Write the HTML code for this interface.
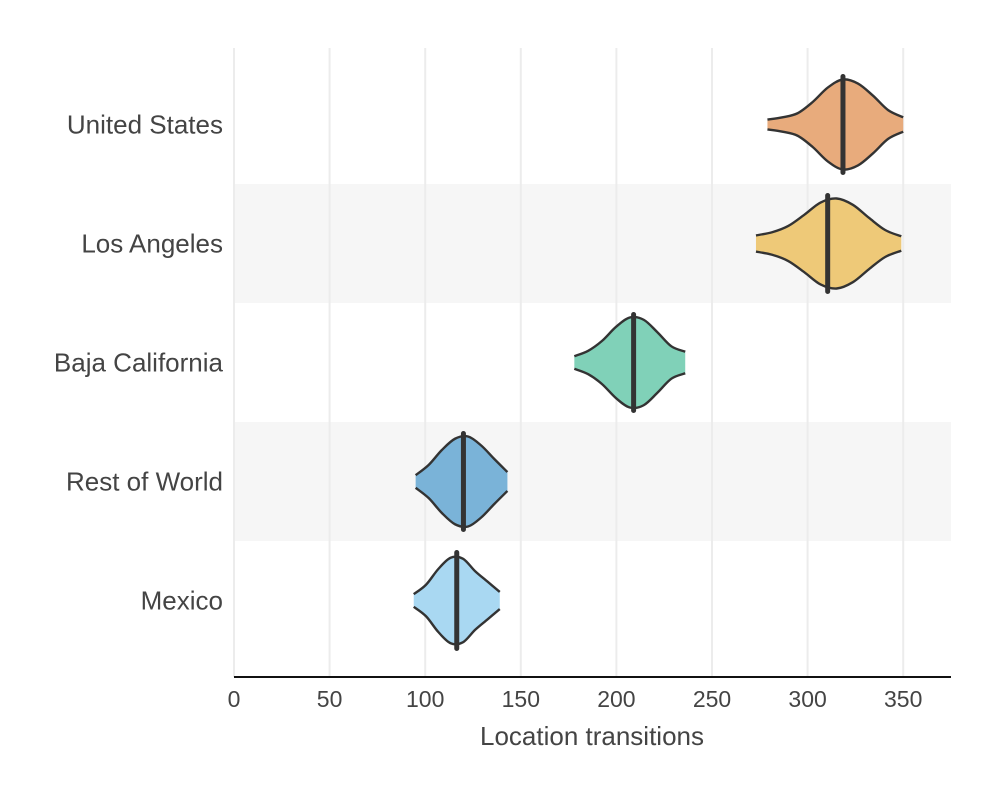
<!DOCTYPE html>
<html><head><meta charset="utf-8"><style>
body{margin:0;background:#fff;}
svg{font-family:"Liberation Sans",sans-serif;}
</style></head><body>
<svg id="chart" width="1000" height="800"></svg>
<script>
const categories=["United States","Los Angeles","Baja California","Rest of World","Mexico"];
const mins=[279,273,178,95,94];
const maxs=[350,349,236,143,139];
const medians=[318.5,310.5,209,120,116.5];
const densities=[
 [0.11,0.16,0.25,0.5,0.82,1,0.91,0.64,0.32,0.16],
 [0.18,0.25,0.39,0.64,0.91,1,0.86,0.57,0.3,0.16],
 [0.14,0.26,0.48,0.79,1,0.95,0.67,0.36,0.24],
 [0.14,0.37,0.7,0.95,1,0.8,0.5,0.21],
 [0.14,0.35,0.7,0.95,0.93,0.65,0.42,0.19]
];
const colors=["#e8ab7c","#eec978","#80d1b8","#7ab3d8","#a9d8f2"];
const ticks=[0,50,100,150,200,250,300,350];
const NS="http://www.w3.org/2000/svg";
const svg=document.getElementById('chart');
const x0=234,x1=951,dmax=375,top0=65,band=119,halfMax=45;
const xs=v=>x0+v/dmax*(x1-x0);
const yc=i=>top0+band*i+band/2;
function mk(t,a,p){const e=document.createElementNS(NS,t);for(const k in a)e.setAttribute(k,a[k]);(p||svg).appendChild(e);return e;}
categories.forEach((c,i)=>{if(i%2==1){const r=mk('rect',{x:x0,y:top0+band*i,width:x1-x0,height:band,fill:'#f6f6f6'});

}});
ticks.forEach(t=>{const l=mk('line',{x1:xs(t),x2:xs(t),y1:48,y2:677,stroke:'#ececec','stroke-width':2});


const tx=mk('text',{x:xs(t),y:707,'text-anchor':'middle','font-size':23,fill:'#444'});tx.textContent=t;

});
const ax=mk('line',{x1:x0,x2:x1,y1:677,y2:677,stroke:'#111','stroke-width':2});


const xt=mk('text',{x:592,y:745,'text-anchor':'middle','font-size':26,fill:'#444'});xt.textContent='Location transitions';


function smooth(pts){let d='M'+pts[0][0]+','+pts[0][1];
for(let i=0;i<pts.length-1;i++){const p0=pts[Math.max(0,i-1)],p1=pts[i],p2=pts[i+1],p3=pts[Math.min(pts.length-1,i+2)];
d+=' C'+(p1[0]+(p2[0]-p0[0])/6)+','+(p1[1]+(p2[1]-p0[1])/6)+' '+(p2[0]-(p3[0]-p1[0])/6)+','+(p2[1]-(p3[1]-p1[1])/6)+' '+p2[0]+','+p2[1];}
return d;}
categories.forEach((c,i)=>{const y=yc(i);
const lb=mk('text',{x:223,y:y+9,'text-anchor':'end','font-size':26,fill:'#444'});lb.textContent=c;


const d=densities[i],n=d.length;
const topP=d.map((v,k)=>[xs(mins[i]+(maxs[i]-mins[i])*k/(n-1)),y-v*halfMax]);
const botP=d.map((v,k)=>[xs(mins[i]+(maxs[i]-mins[i])*k/(n-1)),y+v*halfMax]).reverse();
const topD=smooth(topP), botD=smooth(botP);
const path=topD+' L'+botP[0][0]+','+botP[0][1]+botD.replace(/^M[^ ]+/,'')+' Z';
const v=mk('path',{d:path,fill:colors[i],stroke:'none'});


const o1=mk('path',{d:topD,fill:'none',stroke:'#333','stroke-width':2.4});


const o2=mk('path',{d:botD,fill:'none',stroke:'#333','stroke-width':2.4});


const m=mk('line',{x1:xs(medians[i]),x2:xs(medians[i]),y1:y-48,y2:y+48,stroke:'#333','stroke-width':5,'stroke-linecap':'round'});

});
</script>
</body></html>
